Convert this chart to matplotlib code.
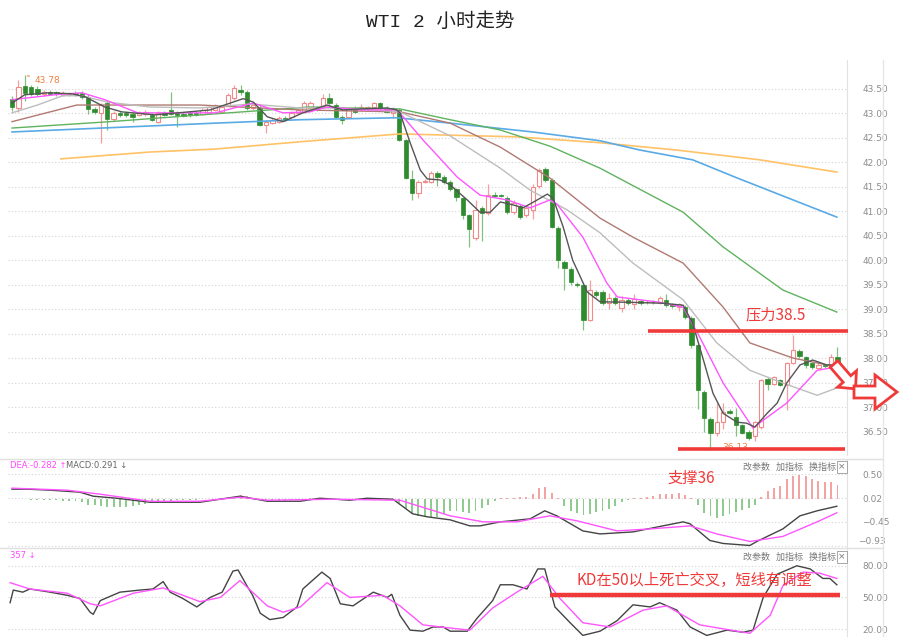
import numpy as np
import matplotlib
matplotlib.use('Agg')
import matplotlib.pyplot as plt
from matplotlib.patches import FancyArrow
from matplotlib.lines import Line2D
from matplotlib.transforms import IdentityTransform

# candles (2h bars), oldest first
opens = [43.30, 43.11, 43.56, 43.54, 43.50, 43.40, 43.44, 43.43, 43.38, 43.39,
         43.42, 43.42, 43.34, 43.09, 43.01, 43.21, 42.89, 43.01, 43.01, 42.99,
         42.97, 42.98, 42.97, 42.83, 43.01, 43.07, 43.01, 42.99, 43.00, 43.01,
         42.99, 43.01, 43.07, 43.03, 43.17, 43.32, 43.48, 43.44, 43.11, 43.11,
         42.76, 42.81, 42.83, 42.91, 42.93, 43.01, 43.03, 43.11, 43.13, 43.15,
         43.32, 43.17, 42.93, 42.93, 43.11, 43.09, 43.09, 43.13, 43.21, 43.11,
         43.01, 43.07, 42.46, 41.66, 41.37, 41.60, 41.60, 41.78, 41.70, 41.60,
         41.45, 41.27, 40.92, 40.45, 41.06, 40.96, 41.34, 41.33, 41.27, 40.98,
         41.11, 40.92, 41.03, 41.52, 41.86, 41.64, 40.66, 39.96, 39.82, 39.51,
         39.49, 38.78, 39.35, 39.35, 39.12, 39.23, 39.03, 39.19, 39.10, 39.17,
         39.15, 39.15, 39.14, 39.19, 39.10, 39.04, 39.04, 38.82, 38.26, 37.30,
         36.75, 36.47, 36.69, 36.92, 36.80, 36.63, 36.50, 36.40, 36.59, 37.57,
         37.48, 37.55, 37.45, 37.90, 38.14, 38.02, 37.90, 37.80, 37.85, 37.82,
         38.02]
closes = [43.13, 43.54, 43.42, 43.40, 43.40, 43.44, 43.40, 43.40, 43.42, 43.42,
          43.39, 43.34, 43.09, 43.03, 43.17, 42.89, 43.01, 42.97, 42.97, 42.93,
          43.01, 43.03, 42.87, 43.01, 42.97, 42.99, 42.97, 42.95, 42.96, 42.97,
          43.07, 43.13, 43.17, 43.13, 43.38, 43.52, 43.44, 43.11, 43.17, 42.76,
          42.83, 42.87, 42.91, 42.87, 43.01, 43.07, 43.21, 43.21, 43.09, 43.32,
          43.21, 42.93, 42.87, 43.09, 43.03, 43.13, 43.13, 43.21, 43.11, 43.03,
          43.09, 42.46, 41.68, 41.37, 41.60, 41.62, 41.78, 41.70, 41.60, 41.45,
          41.29, 40.92, 40.64, 41.02, 40.96, 41.33, 41.31, 41.31, 40.98, 41.17,
          40.88, 41.07, 41.50, 41.84, 41.64, 40.68, 40.00, 39.84, 39.55, 39.49,
          38.78, 39.39, 39.29, 39.12, 39.23, 39.12, 39.19, 39.12, 39.21, 39.12,
          39.14, 39.14, 39.23, 39.08, 39.06, 39.10, 38.84, 38.26, 37.34, 36.77,
          36.47, 36.69, 36.90, 36.88, 36.63, 36.47, 36.37, 36.69, 37.55, 37.47,
          37.61, 37.45, 37.90, 38.16, 38.04, 37.86, 37.82, 37.86, 37.83, 38.02,
          37.82]
highs = [43.35, 43.68, 43.78, 43.58, 43.56, 43.48, 43.47, 43.46, 43.45, 43.44,
         43.46, 43.46, 43.40, 43.12, 43.22, 43.25, 43.05, 43.05, 43.04, 43.03,
         43.05, 43.06, 43.00, 43.04, 43.04, 43.44, 43.04, 43.02, 43.03, 43.04,
         43.10, 43.16, 43.20, 43.16, 43.42, 43.58, 43.58, 43.48, 43.21, 43.19,
         42.86, 42.90, 42.94, 42.94, 43.04, 43.10, 43.26, 43.26, 43.16, 43.40,
         43.42, 43.22, 42.96, 43.12, 43.14, 43.19, 43.16, 43.24, 43.24, 43.14,
         43.12, 43.10, 42.48, 41.84, 41.64, 41.65, 41.82, 41.82, 41.74, 41.64,
         41.48, 41.30, 40.95, 41.23, 41.10, 41.55, 41.40, 41.36, 41.32, 41.22,
         41.15, 41.11, 41.55, 41.88, 41.90, 41.67, 40.70, 40.00, 39.86, 39.55,
         39.52, 39.60, 39.40, 39.40, 39.33, 39.27, 39.27, 39.23, 39.30, 39.20,
         39.18, 39.18, 39.27, 39.30, 39.13, 39.13, 39.08, 38.85, 38.30, 37.34,
         36.80, 37.08, 37.08, 36.95, 36.98, 36.66, 36.53, 36.72, 37.58, 37.62,
         37.64, 37.58, 37.93, 38.47, 38.18, 38.05, 37.93, 37.89, 37.87, 38.08,
         38.22]
lows = [43.05, 43.03, 43.25, 43.36, 43.36, 43.36, 43.37, 43.36, 43.35, 43.36,
        43.35, 43.30, 42.98, 42.98, 42.40, 42.66, 42.85, 42.93, 42.92, 42.83,
        42.94, 42.95, 42.84, 42.80, 42.94, 42.96, 42.72, 42.92, 42.93, 42.94,
        42.96, 42.98, 43.04, 43.00, 43.14, 43.28, 43.38, 43.06, 43.06, 42.74,
        42.60, 42.78, 42.80, 42.84, 42.90, 42.98, 43.00, 43.08, 43.05, 43.12,
        43.18, 42.90, 42.78, 42.90, 43.00, 43.06, 43.06, 43.10, 43.08, 43.00,
        42.90, 42.44, 41.66, 41.23, 41.27, 41.58, 41.58, 41.52, 41.56, 41.42,
        41.20, 40.85, 40.27, 40.41, 40.40, 40.92, 41.30, 41.30, 40.95, 40.95,
        40.85, 40.88, 40.85, 41.48, 41.60, 40.65, 39.85, 39.40, 39.50, 39.46,
        38.57, 38.75, 39.25, 39.08, 39.00, 39.08, 38.95, 39.08, 39.00, 39.08,
        39.11, 39.11, 39.11, 39.05, 39.02, 38.96, 38.80, 38.20, 36.95, 36.50,
        36.13, 36.40, 36.55, 36.85, 36.40, 36.44, 36.33, 36.30, 36.56, 37.35,
        37.45, 37.42, 36.94, 37.88, 38.00, 37.80, 37.78, 37.77, 37.80, 37.80,
        37.78]

# moving averages, read at bar positions
ma5_x = [0, 2, 5.7, 9.4, 11.5, 14.6, 17.3, 22.5, 26.1, 31.2, 36.4, 38, 40.2, 42.7, 45.8, 49.6,
         52.1, 54.8, 59.1, 60.6, 61.1, 62.7, 64.3, 65.4, 67.4, 69, 71.7, 73.7, 75.3, 76.9, 78.9,
         80.5, 82.7, 84.3, 85.2, 86.8, 88.3, 90.6, 92.6, 97.3, 102.5, 105.7, 107.2, 108.8, 110.4,
         112, 114.2, 115.7, 117, 118.9, 120.5, 122, 124.1, 126.1, 128.3, 129.9]
ma5_y = [43.21, 43.38, 43.42, 43.40, 43.34, 43.13, 43.03, 42.97, 43.01, 43.07, 43.30, 43.23,
         42.93, 42.83, 43.01, 43.17, 43.07, 43.09, 43.11, 43.07, 43.01, 42.40, 41.84, 41.66,
         41.64, 41.54, 41.23, 40.98, 40.98, 41.19, 41.13, 41.07, 41.23, 41.35, 41.27, 40.68,
         40.00, 39.35, 39.15, 39.14, 39.12, 39.08, 38.71, 38.00, 37.28, 36.87, 36.69, 36.67,
         36.59, 36.87, 37.08, 37.49, 37.86, 37.96, 37.86, 37.86]
ma10_x = [0, 6.8, 11, 14.6, 19.8, 32, 38, 42.7, 46.9, 49.6, 54.8, 60.6, 61.6, 64.7, 70.1, 73.7,
          78, 81.6, 84.7, 85.8, 89.9, 93.7, 95.3, 102, 105.7, 108.3, 112, 116.7, 118.3, 122,
          126.8, 129.9]
ma10_y = [43.28, 43.38, 43.42, 43.28, 43.01, 43.01, 43.21, 43.01, 43.03, 43.13, 43.07, 43.07,
          42.93, 42.46, 41.70, 41.33, 41.23, 41.07, 41.23, 41.15, 40.47, 39.53, 39.25, 39.14,
          39.04, 38.43, 37.49, 36.57, 36.73, 37.08, 37.75, 37.82]
ma20_x = [0, 4, 8, 11, 15, 21.7, 29.6, 37.5, 45.4, 53.2, 61.1, 69, 76.9, 81.6, 87.4, 92.6,
          97.8, 105.7, 111, 116.2, 121.4, 126.8, 129.9]
ma20_y = [43.01, 43.17, 43.36, 43.36, 43.23, 43.13, 43.11, 43.19, 43.11, 43.11, 43.03, 42.54,
          41.88, 41.43, 41.03, 40.56, 39.94, 39.19, 38.31, 37.75, 37.49, 37.24, 37.39]
ma30_x = [0, 10.2, 19.1, 29.6, 45.4, 61.1, 69, 76.9, 84.7, 92.6, 97.8, 105.7, 112, 116.2, 123, 129.9]
ma30_y = [42.83, 43.17, 43.17, 43.17, 43.07, 43.03, 42.80, 42.31, 41.68, 40.86, 40.47, 39.94,
          39.04, 38.31, 38.00, 37.82]
ma60_x = [0, 15.4, 32, 46.9, 61.1, 69, 76.9, 84.7, 92.6, 105.7, 112, 121.4, 129.9]
ma60_y = [42.70, 42.83, 42.99, 43.13, 43.09, 42.87, 42.66, 42.33, 41.88, 40.98, 40.27, 39.39, 38.94]
ma120_x = [0, 32, 45.4, 60.6, 69, 82, 92.6, 98.9, 107.2, 114.2, 129.9]
ma120_y = [42.62, 42.80, 42.87, 42.91, 42.80, 42.62, 42.44, 42.25, 42.05, 41.68, 40.88]
ma250_x = [7.7, 21.7, 32, 45.4, 61.1, 79.5, 92.6, 104.7, 117.8, 129.9]
ma250_y = [42.07, 42.21, 42.27, 42.42, 42.58, 42.52, 42.40, 42.25, 42.05, 41.80]

# MACD
macd_hist = [0.01, 0.01, 0.00, -0.01, -0.01, -0.01, -0.02, -0.02, -0.03, -0.03,
             -0.04, -0.06, -0.12, -0.12, -0.14, -0.16, -0.16, -0.16, -0.16, -0.14,
             -0.12, -0.10, -0.08, -0.06, -0.04, -0.04, -0.02, -0.02, -0.01, -0.01,
             0.00, 0.01, 0.01, 0.02, 0.03, 0.05, 0.08, 0.06, 0.02, -0.02,
             -0.03, -0.04, -0.04, -0.03, -0.02, -0.01, 0.00, 0.02, 0.03, 0.03,
             0.02, 0.01, 0.00, -0.01, -0.01, 0.00, 0.00, 0.01, 0.02, 0.02,
             0.01, -0.08, -0.20, -0.30, -0.34, -0.36, -0.38, -0.36, -0.30, -0.24,
             -0.24, -0.26, -0.28, -0.24, -0.18, -0.12, -0.04, 0.02, 0.02, 0.02,
             0.04, 0.04, 0.10, 0.22, 0.24, 0.12, 0.02, -0.14, -0.24, -0.28,
             -0.32, -0.30, -0.26, -0.24, -0.20, -0.14, -0.06, -0.02, 0.02, 0.02,
             0.04, 0.06, 0.10, 0.10, 0.10, 0.12, 0.08, 0.02, -0.12, -0.28,
             -0.34, -0.38, -0.34, -0.30, -0.26, -0.22, -0.18, -0.12, 0.04, 0.16,
             0.22, 0.26, 0.40, 0.46, 0.48, 0.46, 0.40, 0.36, 0.34, 0.34,
             0.28]
dif_x = [0, 2.4, 6.0, 10.7, 12.8, 16.5, 21.7, 29.6, 35.9, 40.2, 45.4, 48.5, 53.2, 55.9, 60.0,
         63.1, 65.4, 69.0, 72.1, 73.7, 76.9, 81.6, 83.9, 85.8, 89.9, 92.6, 97.8, 102.5, 105.7,
         106.8, 109.9, 112.0, 116.2, 117.3, 121.4, 124.1, 126.8, 129.9]
dif_y = [0.20, 0.20, 0.18, 0.14, 0.06, 0.02, -0.06, -0.06, 0.06, -0.04, -0.04, 0.02, -0.02,
         0.02, 0.0, -0.29, -0.35, -0.41, -0.53, -0.53, -0.45, -0.39, -0.23, -0.33, -0.63, -0.69,
         -0.65, -0.53, -0.45, -0.49, -0.82, -0.88, -0.92, -0.84, -0.59, -0.33, -0.23, -0.14]
dea_x = [0, 8.7, 13.9, 21.7, 29.6, 35.9, 40.2, 50.6, 61.1, 69.0, 74.2, 79.5, 84.7, 89.0, 95.3,
         100.5, 106.8, 111.0, 116.2, 121.4, 126.8, 129.9]
dea_y = [0.22, 0.18, 0.10, -0.04, -0.04, 0.04, -0.02, 0.0, -0.02, -0.33, -0.45, -0.45, -0.33,
         -0.43, -0.63, -0.59, -0.53, -0.69, -0.84, -0.74, -0.45, -0.27]

# KD
k_x = [-0.3, 0.2, 1.7, 2.8, 6.0, 8.7, 10.7, 12.3, 12.8, 13.9, 17.0, 20.2, 22.2, 23.8, 24.9,
       26.9, 29.1, 31.2, 33.1, 34.8, 35.6, 37.0, 37.9, 39.1, 40.6, 42.7, 44.9, 45.8, 48.8, 50.1,
       51.7, 53.7, 56.9, 59.1, 59.8, 61.1, 62.7, 64.7, 66.3, 67.9, 69.0, 71.7, 73.2, 75.7, 76.9,
       78.9, 81.1, 82.8, 83.9, 85.5, 87.9, 89.9, 92.6, 95.3, 97.8, 100.5, 102.0, 104.7, 106.8,
       109.4, 112.6, 115.1, 116.7, 118.3, 120.5, 123.6, 125.7, 127.7, 128.8, 129.9]
k_y = [45, 57, 55, 58, 55, 52, 49, 36, 34, 47, 55, 57, 58, 65, 55, 49, 41, 50, 55, 75,
       76, 61, 52, 35, 29, 31, 41, 58, 74, 68, 44, 42, 55, 50, 53, 33, 19, 18, 22, 22,
       18, 18, 30, 47, 62, 62, 58, 77, 77, 41, 26, 14, 18, 28, 43, 41, 45, 38, 22, 14,
       19, 17, 19, 50, 72, 80, 77, 68, 68, 62]
d_x = [-0.3, 2.8, 8.7, 12.3, 13.9, 19.1, 23.8, 29.6, 32.8, 35.9, 40.2, 42.7, 45.4, 49.6, 53.2,
       58.4, 61.1, 64.7, 69.0, 72.1, 75.7, 79.5, 83.6, 86.3, 89.9, 94.2, 99.4, 103.1, 108.3,
       116.2, 119.4, 121.4, 124.6, 127.2, 129.9]
d_y = [64, 58, 54, 44, 42, 54, 59, 46, 50, 66, 42, 36, 41, 64, 50, 52, 42, 24, 21, 19,
       40, 55, 70, 49, 26, 22, 38, 42, 24, 16, 33, 61, 74, 73, 68]

high_mark = 43.78
low_mark = 36.13
resistance = 38.55
support = 36.14
kd_level = 52

price_ticks = [36.5, 37.0, 37.5, 38.0, 38.5, 39.0, 39.5, 40.0, 40.5, 41.0, 41.5, 42.0, 42.5, 43.0, 43.5]
macd_ticks = [0.50, 0.02, -0.45, -0.93]
kd_ticks = [80, 50, 20]

RED = '#f03a3a'
W, H = 900, 637
fig = plt.figure(figsize=(9, 6.37), dpi=100)


def rect(top, bottom):
    return [8 / W, 1 - bottom / H, 839 / W, (bottom - top) / H]


ax1 = fig.add_axes(rect(60, 455))
ax2 = fig.add_axes(rect(459, 548))
ax3 = fig.add_axes(rect(549, 637))

idx = np.arange(len(closes))
o = np.array(opens); c = np.array(closes); hi = np.array(highs); lo = np.array(lows)
up = c >= o
body = np.maximum(np.abs(c - o), 0.012)
bottom = np.minimum(o, c)

ax1.vlines(idx[up], lo[up], hi[up], color='#f3a0a0', lw=0.9, zorder=2)
ax1.vlines(idx[~up], lo[~up], hi[~up], color='#80c080', lw=0.9, zorder=2)
ax1.bar(idx[up], body[up], bottom=bottom[up], width=0.68, color='white',
        edgecolor='#f08a8a', lw=0.8, zorder=3)
ax1.bar(idx[~up], body[~up], bottom=bottom[~up], width=0.68, color='#2e8b2e',
        edgecolor='#2e8b2e', lw=0.5, zorder=3)

ax1.plot(ma250_x, ma250_y, color='#ffc266', lw=1.2, zorder=4)
ax1.plot(ma120_x, ma120_y, color='#5aaae6', lw=1.2, zorder=4)
ax1.plot(ma60_x, ma60_y, color='#5fb35f', lw=1.0, zorder=4)
ax1.plot(ma30_x, ma30_y, color='#b07a72', lw=1.0, zorder=4)
ax1.plot(ma20_x, ma20_y, color='#bdbdbd', lw=1.0, zorder=4)
ax1.plot(ma10_x, ma10_y, color='#ff55ff', lw=1.0, zorder=5)
ax1.plot(ma5_x, ma5_y, color='#555555', lw=1.0, zorder=5)

ax1.annotate(f'{high_mark:.2f}', xy=(2, high_mark), xytext=(3.6, 43.68),
             fontsize=6.5, color='#f08040', va='center',
             arrowprops=dict(arrowstyle='-', color='#f08040', lw=0.8))
ax1.annotate(f'{low_mark:.2f}', xy=(110, low_mark), xytext=(111.8, 36.17),
             fontsize=6.5, color='#f08040', va='center',
             arrowprops=dict(arrowstyle='-', color='#f08040', lw=0.8))

ax1.hlines(resistance, 100.2, 131.6, color=RED, lw=2.6, zorder=6, clip_on=False)
ax1.hlines(support, 104.9, 131.2, color=RED, lw=2.6, zorder=6)
ax1.text(120.2, 38.88, '压力38.5', color=RED, fontsize=11, ha='center', va='center',
         family=['Noto Sans CJK SC', 'DejaVu Sans'], zorder=7)

ax1.set_ylim(36.02, 44.09)
ax1.set_yticks(price_ticks)
ax1.set_yticklabels([f'{t:.2f}' for t in price_ticks])

ax2.bar(idx, macd_hist, width=0.3,
        color=['#f4a3a3' if v >= 0 else '#8fca8f' for v in macd_hist], zorder=2)
ax2.plot(dif_x, dif_y, color='#444444', lw=1.0, zorder=3)
ax2.plot(dea_x, dea_y, color='#ff55ff', lw=1.0, zorder=3)
ax2.set_ylim(-0.97, 0.80)
ax2.set_yticks(macd_ticks)
ax2.set_yticklabels([f'{t:.2f}'.replace('-', '\u2212') for t in macd_ticks[:-1]] + [''])
ax2.annotate(f'{macd_ticks[-1]:.2f}'.replace('-', '\u2212'), xy=(1, macd_ticks[-1]),
             xycoords=('axes fraction', 'data'), xytext=(11, 4), textcoords='offset pixels',
             fontsize=6.5, color='#8c8c8c', va='center', annotation_clip=False)

ax3.plot(k_x, k_y, color='#444444', lw=1.0, zorder=3)
ax3.plot(d_x, d_y, color='#ff55ff', lw=1.0, zorder=3)
ax3.hlines(kd_level, 84.8, 130.4, color=RED, lw=3.2, zorder=6)
ax3.text(107.5, 66, 'KD在50以上死亡交叉，短线有调整', color=RED, fontsize=11,
         ha='center', va='center', family=['Noto Sans CJK SC', 'DejaVu Sans'], zorder=7)
ax3.set_ylim(12.5, 95.9)
ax3.set_yticks(kd_ticks)
ax3.set_yticklabels([f'{t:.2f}' for t in kd_ticks])

for ax in (ax1, ax2, ax3):
    ax.set_xlim(-0.63, 131.5)
    ax.set_xticks([])
    ax.yaxis.tick_right()
    ax.tick_params(axis='y', length=0, pad=11, labelsize=6.5, labelcolor='#8c8c8c')
    ax.grid(axis='y', ls=(0, (1, 2)), color='#d4d4d4', lw=0.8)
    ax.set_axisbelow(True)
    for s in ('left', 'top', 'bottom'):
        ax.spines[s].set_visible(False)
    ax.spines['right'].set_color('#e2e2e2')
    ax.set_facecolor('none')

# panel frames
for yy in (459, 548):
    fig.add_artist(Line2D([0, 883 / W], [1 - yy / H] * 2, color='#e0e0e0', lw=1.0))
fig.add_artist(Line2D([883 / W] * 2, [0, 1 - 60 / H], color='#e6e6e6', lw=1.0))

fig.text(0.489, 1 - 22 / H, 'WTI 2 小时走势', fontsize=14, ha='center', va='center',
         family=['Liberation Mono', 'Noto Sans CJK SC'], color='#222222')

fig.text(691 / W, 1 - 478 / H, '支撑36', color=RED, fontsize=11, ha='center', va='center',
         family=['Noto Sans CJK SC', 'DejaVu Sans'])

fig.text(10 / W, 1 - 466 / H, 'DEA:-0.282 \u2191', color='#ff44ff', fontsize=6, va='center')
fig.text(66 / W, 1 - 466 / H, 'MACD:0.291 \u2193', color='#666666', fontsize=6, va='center')
fig.text(10 / W, 1 - 556 / H, '357 \u2193', color='#ff44ff', fontsize=6, va='center')

for yy in (467, 557):
    fig.text(743 / W, 1 - yy / H, '改参数   加指标   换指标', color='#777777', fontsize=6.5,
             va='center', family=['Noto Sans CJK SC', 'DejaVu Sans'])
    fig.text(842 / W, 1 - yy / H, '\u00d7', color='#777777', fontsize=6.5, ha='center',
             va='center', bbox=dict(boxstyle='square,pad=0.15', fc='white', ec='#999999', lw=0.6))

# hollow red arrows (pixel coordinates, origin bottom-left)
fig.add_artist(FancyArrow(834, H - 364, 13, -15, width=10, head_width=25, head_length=13,
                          fc='white', ec=RED, lw=2, transform=IdentityTransform(), zorder=8))
fig.add_artist(FancyArrow(854, H - 392, 21, 0, width=12, head_width=34, head_length=22,
                          fc='white', ec=RED, lw=2, transform=IdentityTransform(), zorder=8))

fig.savefig('out.png', dpi=100, facecolor='white')
